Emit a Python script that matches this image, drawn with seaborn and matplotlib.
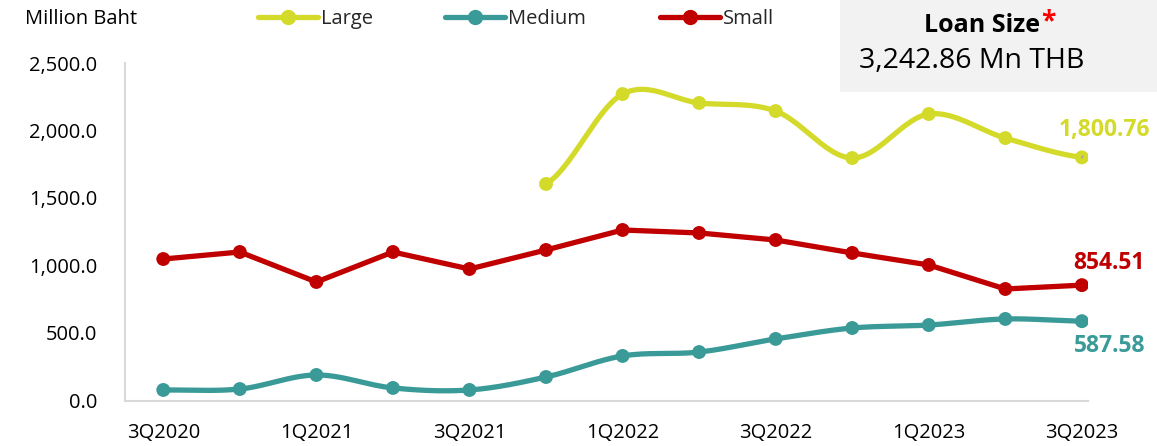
import numpy as np
import pandas as pd
import matplotlib
matplotlib.use("Agg")
import matplotlib.pyplot as plt
from matplotlib.lines import Line2D
from matplotlib.patches import Rectangle
import seaborn as sns

quarters = ["3Q2020", "4Q2020", "1Q2021", "2Q2021", "3Q2021", "4Q2021", "1Q2022",
            "2Q2022", "3Q2022", "4Q2022", "1Q2023", "2Q2023", "3Q2023"]
large = [np.nan, np.nan, np.nan, np.nan, np.nan, 1604, 2270, 2204, 2144, 1796, 2122, 1944, 1800.76]
medium = [78, 85, 189, 93, 78, 174, 330, 359, 456, 537, 559, 604, 587.58]
small = [1048, 1100, 878, 1100, 974, 1115, 1263, 1241, 1189, 1093, 1004, 826, 854.51]
tick_labels = ["3Q2020", "1Q2021", "3Q2021", "1Q2022", "3Q2022", "1Q2023", "3Q2023"]
series_names = ["Large", "Medium", "Small"]

C_LARGE = "#D4DA2A"
C_MED = "#3A9A98"
C_SMALL = "#C00000"

sns.set_theme(style="white")
plt.rcParams["font.family"] = ["Open Sans", "DejaVu Sans"]

W, H = 1157, 446


def fx(px):
    return px / W


def fy(py):
    return 1 - py / H


def smooth(x, y, n=30):
    """Catmull-Rom curve through the points (spreadsheet-style smoothed line)."""
    x = np.asarray(x, float)
    y = np.asarray(y, float)
    px = np.concatenate([[2 * x[0] - x[1]], x, [2 * x[-1] - x[-2]]])
    py = np.concatenate([[y[0]], y, [y[-1]]])
    xs, ys = [], []
    for i in range(1, len(px) - 2):
        t = np.linspace(0, 1, n)
        p0, p1, p2, p3 = (np.array([px[j], py[j]]) for j in range(i - 1, i + 3))
        t2, t3 = t * t, t * t * t
        pts = 0.5 * (np.outer(2 * p1, np.ones_like(t)).T
                     + np.outer(-p0 + p2, t).T
                     + np.outer(2 * p0 - 5 * p1 + 4 * p2 - p3, t2).T
                     + np.outer(-p0 + 3 * p1 - 3 * p2 + p3, t3).T)
        xs.append(pts[:, 0])
        ys.append(pts[:, 1])
    return np.concatenate(xs), np.concatenate(ys)


fig = plt.figure(figsize=(W / 100, H / 100), dpi=100)
ax = fig.add_axes([fx(125), fy(400.5), fx(1088) - fx(125), fy(63) - fy(400.5)])

idx = np.arange(len(quarters))
df = pd.DataFrame({"q": idx, "Large": large, "Medium": medium, "Small": small})

LW = 3.8
MS = 10
FS = 14.5

# Large (smoothed)
dl = df.dropna(subset=["Large"])
sx, sy = smooth(dl["q"], dl["Large"])
sns.lineplot(x=sx, y=sy, ax=ax, color=C_LARGE, lw=LW, sort=False, estimator=None)
sns.scatterplot(x=dl["q"], y=dl["Large"], ax=ax, color=C_LARGE, s=MS ** 2, edgecolor="none", zorder=3)

# Medium (smoothed)
sx, sy = smooth(df["q"], df["Medium"])
sns.lineplot(x=sx, y=sy, ax=ax, color=C_MED, lw=LW, sort=False, estimator=None)
sns.scatterplot(x=df["q"], y=df["Medium"], ax=ax, color=C_MED, s=MS ** 2, edgecolor="none", zorder=3)

# Small (straight segments)
sns.lineplot(x=df["q"], y=df["Small"], ax=ax, color=C_SMALL, lw=LW, estimator=None)
sns.scatterplot(x=df["q"], y=df["Small"], ax=ax, color=C_SMALL, s=MS ** 2, edgecolor="none", zorder=3)

ax.set_xlim(-0.5, 12.08)
ax.set_ylim(0, 2500)
ax.set_yticks(np.arange(0, 2501, 500))
ax.set_yticklabels([f"{v:,.1f}" for v in np.arange(0, 2501, 500)], fontsize=FS, color="#000000")
ax.set_xticks(idx[::2])
ax.set_xticklabels(tick_labels, fontsize=FS, color="#000000")
ax.tick_params(axis="y", length=0, pad=20)
ax.tick_params(axis="x", length=0, pad=16)
ax.set_xlabel("")
ax.set_ylabel("")
for s in ["top", "right"]:
    ax.spines[s].set_visible(False)
for s in ["left", "bottom"]:
    ax.spines[s].set_color("#D9D9D9")
    ax.spines[s].set_linewidth(1.5)

# End-point value labels
last = len(quarters) - 1
LFS = 16.5
ax.annotate(f"{large[-1]:,.2f}", xy=(last, large[-1]), xytext=(last + 0.29, large[-1] + 200),
            ha="center", va="center", fontsize=LFS, fontweight="bold", color=C_LARGE,
            arrowprops=dict(arrowstyle="-", color="#A6A6A6", lw=1.5, shrinkA=10, shrinkB=3))
ax.text(last + 0.36, small[-1] + 165, f"{small[-1]:,.2f}", ha="center", va="center",
        fontsize=LFS, fontweight="bold", color=C_SMALL)
ax.text(last + 0.36, medium[-1] - 185, f"{medium[-1]:,.2f}", ha="center", va="center",
        fontsize=LFS, fontweight="bold", color=C_MED)

# Unit caption
fig.text(fx(25), fy(19), "Million Baht", ha="left", va="center", fontsize=FS, color="#000000")

# Legend entries across the top
colors = [C_LARGE, C_MED, C_SMALL]
starts = [258, 445, 660]
for name, c, x0 in zip(series_names, colors, starts):
    h = Line2D([0], [0], color=c, lw=LW, marker="o", markersize=MS, solid_capstyle="round")
    leg = fig.legend([h], [name], loc="center left", bbox_to_anchor=(fx(x0), fy(19)),
                     frameon=False, fontsize=FS, handlelength=3.0, handletextpad=0.15,
                     borderpad=0, borderaxespad=0)

# Summary box
fig.patches.append(Rectangle((fx(840), fy(92)), fx(317), 92 / H,
                             transform=fig.transFigure, facecolor="#F2F2F2", edgecolor="none", zorder=0))
t = fig.text(fx(982), fy(25), "Loan Size", ha="center", va="center", fontsize=18,
             fontweight="bold", color="#000000")
fig.canvas.draw()
bb = t.get_window_extent()
fig.text(bb.x1 / fig.bbox.width + 0.001, fy(22), "*", ha="left", va="center", fontsize=19,
         fontweight="bold", color="#FF0000")
fig.text(fx(972), fy(61), "3,242.86 Mn THB", ha="center", va="center", fontsize=20.5,
         color="#000000")

fig.savefig("out.png", dpi=100)
